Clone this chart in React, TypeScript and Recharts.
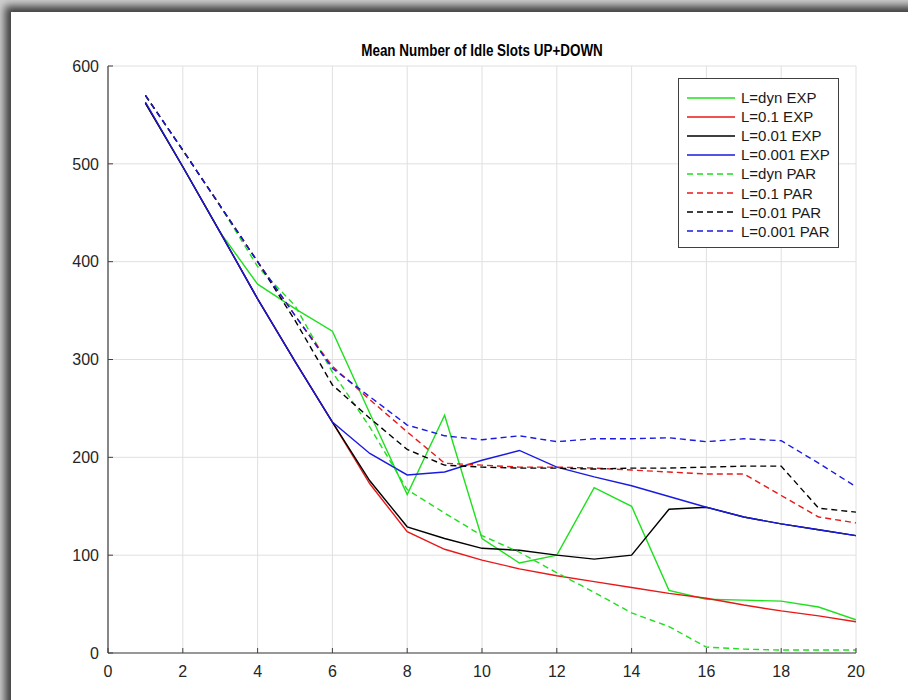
import React from "react";
import {
  LineChart,
  Line,
  XAxis,
  YAxis,
  CartesianGrid,
  Legend,
} from "recharts";

const X_VALUES = [1, 2, 3, 4, 5, 6, 7, 8, 9, 10, 11, 12, 13, 14, 15, 16, 17, 18, 19, 20];
const X_TICKS = [0, 2, 4, 6, 8, 10, 12, 14, 16, 18, 20];
const Y_TICKS = [0, 100, 200, 300, 400, 500, 600];

const DYN_EXP = [562, 497, 430, 377, 352, 329, 245, 162, 243, 117, 92, 100, 169, 150, 64, 55, 54, 53, 47, 34];
const L01_EXP = [562, 497, 430, 362, 298, 236, 173, 124, 106, 95, 86, 79, 73, 67, 61, 56, 49, 43, 38, 32];
const L001_EXP = [562, 497, 430, 362, 298, 236, 176, 129, 117, 107, 105, 100, 96, 100, 147, 149, 139, 132, 126, 120];
const L0001_EXP = [563, 497, 430, 362, 298, 236, 204, 182, 185, 197, 207, 190, 180, 171, 160, 149, 139, 132, 126, 120];
const DYN_PAR = [570, 514, 457, 395, 355, 287, 231, 167, 143, 120, 103, 82, 62, 41, 27, 6, 4, 3, 3, 3];
const L01_PAR = [570, 514, 457, 400, 345, 293, 259, 226, 194, 192, 190, 190, 189, 187, 185, 183, 183, 161, 139, 133];
const L001_PAR = [570, 514, 457, 400, 340, 274, 240, 208, 192, 190, 189, 189, 188, 189, 189, 190, 191, 191, 148, 144];
const L0001_PAR = [570, 514, 457, 400, 345, 291, 262, 233, 222, 218, 222, 216, 219, 219, 220, 216, 219, 217, 194, 170];

const SERIES = [
  { key: "dynExp", name: "L=dyn EXP", color: "#1ee01e", dashed: false, values: DYN_EXP },
  { key: "l01Exp", name: "L=0.1 EXP", color: "#e81818", dashed: false, values: L01_EXP },
  { key: "l001Exp", name: "L=0.01 EXP", color: "#000000", dashed: false, values: L001_EXP },
  { key: "l0001Exp", name: "L=0.001 EXP", color: "#1a1ae0", dashed: false, values: L0001_EXP },
  { key: "dynPar", name: "L=dyn PAR", color: "#1ee01e", dashed: true, values: DYN_PAR },
  { key: "l01Par", name: "L=0.1 PAR", color: "#e81818", dashed: true, values: L01_PAR },
  { key: "l001Par", name: "L=0.01 PAR", color: "#000000", dashed: true, values: L001_PAR },
  { key: "l0001Par", name: "L=0.001 PAR", color: "#1a1ae0", dashed: true, values: L0001_PAR },
];

const data = X_VALUES.map((x, i) => {
  const row: Record<string, number> = { x };
  SERIES.forEach((s) => {
    row[s.key] = s.values[i];
  });
  return row;
});

const FONT = "'Liberation Sans', Arial, Helvetica, sans-serif";
const AXIS_COLOR = "#404040";
const DASH = "6 4";

function LegendBox() {
  return (
    <div
      style={{
        border: "1px solid #404040",
        background: "#ffffff",
        width: 161,
        padding: "9px 0 6px 0",
        boxSizing: "border-box",
        fontFamily: FONT,
        fontSize: 15,
        color: "#1a1a1a",
      }}
    >
      {SERIES.map((s) => (
        <div key={s.key} style={{ display: "flex", alignItems: "center", height: 19.1 }}>
          <svg width={62} height={10} style={{ display: "block" }}>
            <line
              x1={8}
              y1={5}
              x2={56}
              y2={5}
              stroke={s.color}
              strokeWidth={1.4}
              strokeDasharray={s.dashed ? DASH : undefined}
            />
          </svg>
          <span style={{ whiteSpace: "nowrap", lineHeight: "19px" }}>{s.name}</span>
        </div>
      ))}
    </div>
  );
}

export default function App() {
  return (
    <div
      style={{
        position: "absolute",
        left: 0,
        top: 0,
        width: 908,
        height: 700,
        background: "#cfcfcf",
        overflow: "hidden",
      }}
    >
      <div
        style={{
          position: "absolute",
          left: 11,
          top: 12,
          width: 920,
          height: 720,
          background: "#ffffff",
          boxShadow: "-4px -4px 8px 2px rgba(0,0,0,0.7)",
        }}
      />
      <div
        style={{
          position: "absolute",
          left: 0,
          top: 42,
          width: 964,
          textAlign: "center",
          fontFamily: FONT,
          fontWeight: "bold",
          fontSize: 16,
          color: "#000",
          transform: "scaleX(0.84)",
          transformOrigin: "482px 0px",
        }}
      >
        Mean Number of Idle Slots UP+DOWN
      </div>
      <div style={{ position: "absolute", left: 0, top: 0 }}>
        <LineChart
          width={908}
          height={700}
          data={data}
          margin={{ top: 66, right: 52, bottom: 17, left: 68 }}
        >
          <CartesianGrid stroke="#e0e0e0" strokeWidth={1} />
          <XAxis
            dataKey="x"
            type="number"
            domain={[0, 20]}
            ticks={X_TICKS}
            interval={0}
            height={30}
            tickSize={-5}
            tickMargin={18}
            axisLine={{ stroke: AXIS_COLOR, strokeWidth: 1.2 }}
            tickLine={{ stroke: AXIS_COLOR }}
            tick={{ fill: "#262626", fontSize: 16, fontFamily: FONT }}
            allowDataOverflow
          />
          <XAxis
            xAxisId="top"
            orientation="top"
            dataKey="x"
            type="number"
            domain={[0, 20]}
            ticks={X_TICKS}
            interval={0}
            height={0}
            tickSize={-5}
            tick={false}
            axisLine={{ stroke: AXIS_COLOR, strokeWidth: 1.2 }}
            tickLine={{ stroke: AXIS_COLOR }}
          />
          <YAxis
            type="number"
            domain={[0, 600]}
            ticks={Y_TICKS}
            interval={0}
            width={40}
            tickSize={-5}
            tickMargin={14}
            axisLine={{ stroke: AXIS_COLOR, strokeWidth: 1.2 }}
            tickLine={{ stroke: AXIS_COLOR }}
            tick={{ fill: "#262626", fontSize: 16, fontFamily: FONT }}
            allowDataOverflow
          />
          <YAxis
            yAxisId="right"
            orientation="right"
            type="number"
            domain={[0, 600]}
            ticks={Y_TICKS}
            interval={0}
            width={0}
            tickSize={-5}
            tick={false}
            axisLine={{ stroke: AXIS_COLOR, strokeWidth: 1.2 }}
            tickLine={{ stroke: AXIS_COLOR }}
          />
          <Legend
            layout="vertical"
            align="center"
            verticalAlign="middle"
            wrapperStyle={{ position: "absolute", left: 678, top: 78, width: 161 }}
            content={() => <LegendBox />}
          />
          {SERIES.map((s) => (
            <Line
              key={s.key}
              type="linear"
              dataKey={s.key}
              name={s.name}
              stroke={s.color}
              strokeWidth={1.4}
              strokeDasharray={s.dashed ? DASH : undefined}
              dot={false}
              activeDot={false}
              isAnimationActive={false}
            />
          ))}
        </LineChart>
      </div>
    </div>
  );
}
